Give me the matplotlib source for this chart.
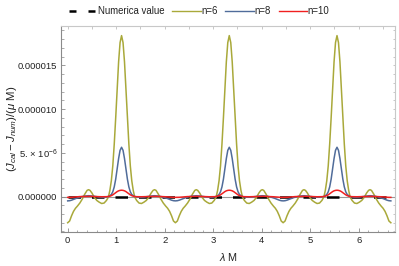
import numpy as np
import matplotlib
matplotlib.use("Agg")
import matplotlib.pyplot as plt
from matplotlib.ticker import MultipleLocator, FixedLocator, FixedFormatter

plt.rcParams['font.family'] = ['Liberation Sans', 'DejaVu Sans']
plt.rcParams['mathtext.fontset'] = 'custom'
plt.rcParams['mathtext.rm'] = 'Liberation Sans'
plt.rcParams['mathtext.it'] = 'Liberation Sans:italic'
plt.rcParams['mathtext.default'] = 'regular'

# ---- data (values in units of 1e-6), one half period from minimum to peak ----
period = 2.2214
n_periods = 3
x_half = [0.0, 0.04, 0.08, 0.12, 0.16, 0.2, 0.25, 0.3, 0.35, 0.4, 0.43, 0.46, 0.5,
          0.55, 0.6, 0.65, 0.7, 0.75, 0.8, 0.84, 0.87, 0.9, 0.93, 0.96, 0.99,
          1.02, 1.05, 1.08, 1.1107]
n6_half = [-3.0, -2.8, -2.2, -1.7, -1.35, -1.1, -0.75, -0.3, 0.25, 0.7, 0.78, 0.7, 0.4,
           -0.1, -0.45, -0.65, -0.8, -0.75, -0.45, -0.05, 0.7, 1.8, 3.5, 6.0, 9.0,
           12.3, 15.4, 17.6, 18.4]
n8_half = [-0.5, -0.48, -0.42, -0.33, -0.24, -0.16, -0.07, 0.0, 0.05, 0.08, 0.09, 0.08, 0.06,
           0.02, -0.02, -0.06, -0.08, -0.08, -0.05, 0.0, 0.1, 0.23, 0.54, 1.1, 1.98,
           3.13, 4.34, 5.28, 5.63]
n10_half = [-0.1, -0.1, -0.09, -0.07, -0.05, -0.03, -0.01, 0.0, 0.01, 0.02, 0.02, 0.02, 0.01,
            0.0, -0.01, -0.02, -0.03, -0.03, -0.02, 0.0, 0.04, 0.1, 0.19, 0.31, 0.44,
            0.56, 0.65, 0.7, 0.72]
numeric_value = 0.0

series_labels = ["Numerica value", "n=6", "n=8", "n=10"]
series_colors = ["black", "#a9a93a", "#506c9a", "#f02020"]
x_ticks = [0, 1, 2, 3, 4, 5, 6]
y_ticks = [0.0, 5e-6, 1e-5, 1.5e-5]
y_ticklabels = ["0.000000", r"5. $\times$ 10$^{-6}$", "0.000010", "0.000015"]


def build(xh, yh):
    xh = np.asarray(xh); yh = np.asarray(yh) * 1e-6
    xp = np.concatenate([xh, period - xh[-2::-1]])
    yp = np.concatenate([yh, yh[-2::-1]])
    xs, ys = [], []
    for k in range(n_periods):
        xs.append(xp[:-1] + k * period)
        ys.append(yp[:-1])
    xs.append([xp[-1] + (n_periods - 1) * period]); ys.append([yp[-1]])
    return np.concatenate(xs), np.concatenate(ys)


fig = plt.figure(figsize=(3.99, 2.66), dpi=100)
ax = fig.add_axes([0.1541, 0.1278, 0.8358, 0.7745])

xmin, xmax = -0.128, 6.749
ax.set_xlim(xmin, xmax)
ax.set_ylim(-4.06e-6, 19.5e-6)

ax.axhline(0, color="#999999", lw=0.8, zorder=1)

x6, y6 = build(x_half, n6_half)
x8, y8 = build(x_half, n8_half)
x10, y10 = build(x_half, n10_half)

ax.plot([0, n_periods * period], [numeric_value, numeric_value], color=series_colors[0],
        lw=1.8, dashes=(5, 4.4), solid_capstyle='butt', dash_capstyle='butt',
        label=series_labels[0], zorder=2)
ax.plot(x6, y6, color=series_colors[1], lw=1.1, label=series_labels[1], zorder=3)
ax.plot(x8, y8, color=series_colors[2], lw=1.1, label=series_labels[2], zorder=4)
ax.plot(x10, y10, color=series_colors[3], lw=1.1, label=series_labels[3], zorder=5)

# frame
for side in ['left', 'bottom']:
    ax.spines[side].set_color('#8a8a8a')
    ax.spines[side].set_linewidth(0.8)
for side in ['top', 'right']:
    ax.spines[side].set_color('#c8c8c8')
    ax.spines[side].set_linewidth(0.8)

ax.xaxis.set_major_locator(FixedLocator(x_ticks))
ax.xaxis.set_minor_locator(MultipleLocator(0.2))
ax.yaxis.set_major_locator(FixedLocator(y_ticks))
ax.yaxis.set_major_formatter(FixedFormatter(y_ticklabels))
ax.yaxis.set_minor_locator(MultipleLocator(1e-6))

ax.tick_params(which='major', direction='in', length=3.2, width=0.6, color='#8a8a8a',
               labelsize=6.8, labelcolor='#222222', pad=3)
ax.tick_params(which='minor', direction='in', length=1.8, width=0.5, color='#8a8a8a')

# top ticks every 0.5, right ticks every 1e-6 (no labels)
axt = ax.secondary_xaxis('top')
axt.set_xticks(np.arange(0, 7, 0.5))
axt.tick_params(direction='in', length=1.8, width=0.5, color='#b0b0b0', labeltop=False)
axt.spines['top'].set_visible(False)
axr = ax.secondary_yaxis('right')
axr.set_yticks(np.arange(-4e-6, 19.6e-6, 1e-6))
axr.tick_params(direction='in', length=1.8, width=0.5, color='#b0b0b0', labelright=False)
axr.spines['right'].set_visible(False)

ax.set_xlabel(r"$\it{\lambda}$ M", fontsize=7.8, color='#222222', labelpad=4)
ax.set_ylabel(r"$(\it{J}_{cal}-\it{J}_{num})/(\it{\mu}$ M$)$", fontsize=8.2,
              color='#222222')
ax.yaxis.set_label_coords(-0.128, 0.5)

leg = fig.legend(loc='center', bbox_to_anchor=(0.4987, 0.957), ncol=4, frameon=False,
                 fontsize=6.9, handlelength=3.0, handletextpad=0.0, columnspacing=0.85,
                 borderaxespad=0)
lines = leg.get_lines()
lines[0].set_dashes((2.8, 4.8))
for h in lines[1:]:
    h.set_linewidth(1.0)
for t in leg.get_texts():
    t.set_color('#222222')

fig.savefig("out.png", dpi=100)
